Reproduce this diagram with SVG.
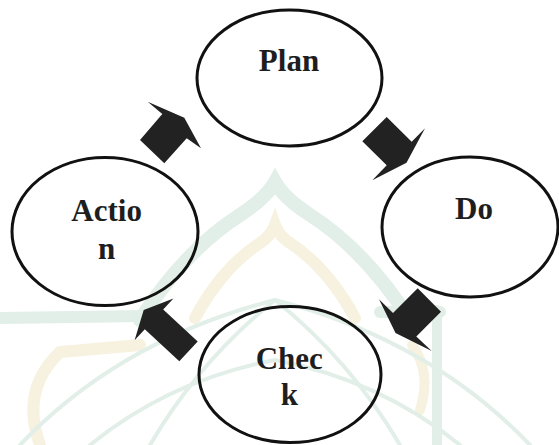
<svg xmlns="http://www.w3.org/2000/svg" width="559" height="445" viewBox="0 0 559 445">
<style>
.node{fill:none;stroke:#111;stroke-width:3}
text{font-family:'Liberation Serif','Times New Roman',serif;font-weight:700;font-size:31px;fill:#1e1e1e;text-anchor:middle}
.arr{fill:#222}
.wg{fill:none;stroke:#e2efe8;stroke-linecap:round}
.wy{fill:none;stroke:#f7f1df;stroke-linecap:round}
</style>
<rect width="559" height="445" fill="#fff"/>
<g id="watermark">
<path class="wg" stroke-width="14" d="M140 320 Q185 250 240 215 Q266 198 275 182 Q284 198 310 215 Q365 250 410 320"/>
<path class="wy" stroke-width="12" d="M195 318 Q222 268 260 243 Q271 236 275 225 Q279 236 290 243 Q328 268 355 318"/>
<path class="wg" stroke-width="12" d="M0 318 L145 316 M380 312 L440 312"/>
<path class="wg" stroke-width="10" d="M437 310 L437 445"/>
<path class="wy" stroke-width="12" d="M40 445 Q20 390 60 352 L140 345"/>
<path class="wy" stroke-width="10" d="M412 345 Q432 372 420 410"/>
<path class="wg" stroke-width="4" d="M20 445 Q120 340 275 300 Q430 340 530 445"/>
<path class="wg" stroke-width="4" d="M90 445 Q170 380 275 360 Q380 380 460 445"/>
<path class="wg" stroke-width="4" d="M150 445 Q200 360 275 300 M400 445 Q350 360 275 300"/>
</g>
<g id="connectors">
<polygon class="arr" points="147.7,101.7 184.3,117.7 201,148.3 186.7,138.3 164.3,163.3 140,140 162.3,114"/>
<polygon class="arr" points="386.7,117 411.7,141.7 425,128.3 406.5,162.7 372.3,180.3 386.7,165.3 362.3,141.3"/>
<polygon class="arr" points="417.7,288.3 441,311.7 416.3,336.4 431.7,351 395.5,333 379,299.3 393,313"/>
<polygon class="arr" points="197.7,341.4 179.3,361.2 144.8,329.3 134.6,340.3 143.7,309.9 173.4,298.5 163.2,309.5"/>
</g>
<g id="plan">
<ellipse class="node" cx="289.5" cy="78" rx="92.5" ry="68"/>
<text x="289" y="71">Plan</text>
</g>
<g id="do">
<ellipse class="node" cx="470" cy="227" rx="88" ry="70"/>
<text x="474" y="218.5">Do</text>
</g>
<g id="check">
<ellipse class="node" cx="290" cy="374.5" rx="91" ry="68"/>
<text x="289.3" y="368.5">Chec</text>
<text x="289.3" y="405">k</text>
</g>
<g id="action">
<ellipse class="node" cx="105" cy="231.5" rx="93" ry="74"/>
<text x="106.6" y="221">Actio</text>
<text x="106.5" y="258.5">n</text>
</g>
</svg>
